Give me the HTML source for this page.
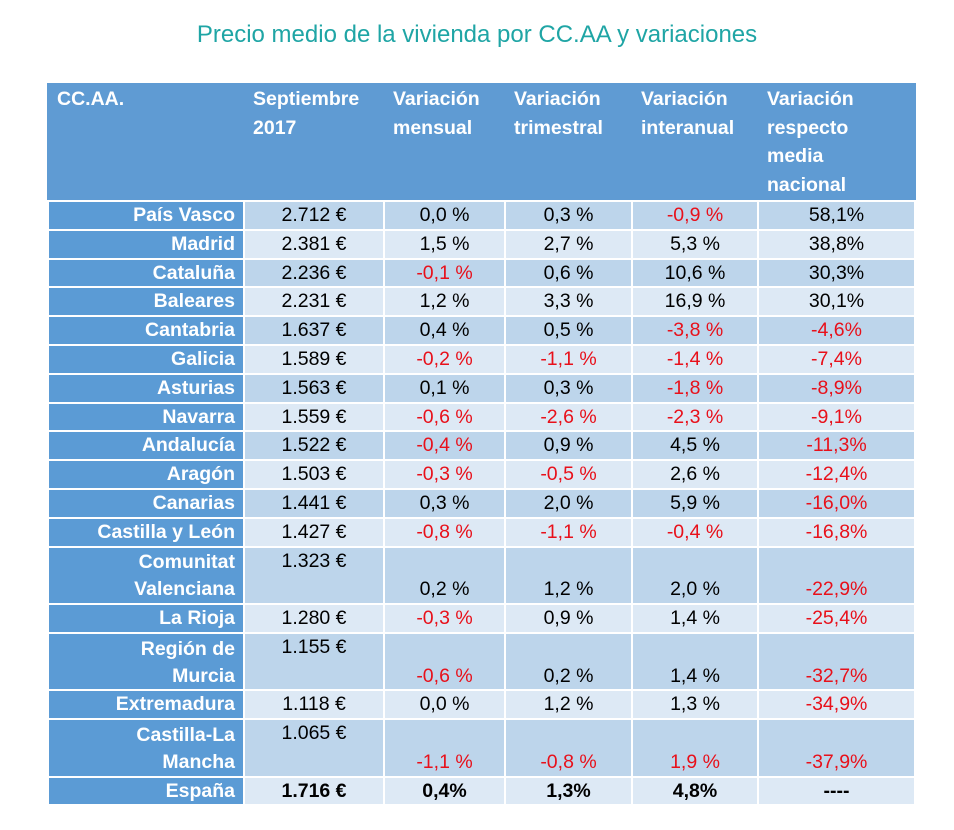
<!DOCTYPE html>
<html><head><meta charset="utf-8"><style>
body{margin:0;width:954px;height:830px;background:#fff;font-family:"Liberation Sans",sans-serif;}
h1{position:absolute;top:21px;left:0;width:954px;text-align:center;margin:0;font-weight:normal;font-size:24px;color:#1fa5a5;}
table{position:absolute;left:47px;top:83px;border-collapse:collapse;table-layout:fixed;font-size:19.5px;}
td{border:2px solid #fff;padding:0 8px;height:26.8px;line-height:26.8px;text-align:center;color:#000;overflow:hidden;white-space:nowrap;}
tr.h td{background:#5f9bd3;color:#fff;font-weight:bold;text-align:left;vertical-align:top;height:115px;padding:0 8px;line-height:28.5px;border-left-color:#5f9bd3;border-right-color:#5f9bd3;border-top-color:#5f9bd3}
td.n{background:#5b9bd5;color:#fff;font-weight:bold;text-align:right;}
tr.d td:not(.n){background:#bdd5eb}
tr.l td:not(.n){background:#dde9f5}
tr.t td{height:55.5px;vertical-align:bottom}
tr.t td.e{vertical-align:top}
.r{color:#e8101a!important}
tr.b td{font-weight:bold}
</style></head><body>
<h1>Precio medio de la vivienda por CC.AA y variaciones</h1>
<table>
<colgroup><col style="width:196px"><col style="width:140px"><col style="width:121px"><col style="width:127px"><col style="width:126px"><col style="width:157px"></colgroup>
<tr class="h"><td>CC.AA.</td><td>Septiembre<br>2017</td><td>Variación<br>mensual</td><td>Variación<br>trimestral</td><td>Variación<br>interanual</td><td>Variación<br>respecto<br>media<br>nacional</td></tr>
<tr class="d"><td class="n">País Vasco</td><td>2.712 €</td><td>0,0 %</td><td>0,3 %</td><td class="r">-0,9 %</td><td>58,1%</td></tr>
<tr class="l"><td class="n">Madrid</td><td>2.381 €</td><td>1,5 %</td><td>2,7 %</td><td>5,3 %</td><td>38,8%</td></tr>
<tr class="d"><td class="n">Cataluña</td><td>2.236 €</td><td class="r">-0,1 %</td><td>0,6 %</td><td>10,6 %</td><td>30,3%</td></tr>
<tr class="l"><td class="n">Baleares</td><td>2.231 €</td><td>1,2 %</td><td>3,3 %</td><td>16,9 %</td><td>30,1%</td></tr>
<tr class="d"><td class="n">Cantabria</td><td>1.637 €</td><td>0,4 %</td><td>0,5 %</td><td class="r">-3,8 %</td><td class="r">-4,6%</td></tr>
<tr class="l"><td class="n">Galicia</td><td>1.589 €</td><td class="r">-0,2 %</td><td class="r">-1,1 %</td><td class="r">-1,4 %</td><td class="r">-7,4%</td></tr>
<tr class="d"><td class="n">Asturias</td><td>1.563 €</td><td>0,1 %</td><td>0,3 %</td><td class="r">-1,8 %</td><td class="r">-8,9%</td></tr>
<tr class="l"><td class="n">Navarra</td><td>1.559 €</td><td class="r">-0,6 %</td><td class="r">-2,6 %</td><td class="r">-2,3 %</td><td class="r">-9,1%</td></tr>
<tr class="d"><td class="n">Andalucía</td><td>1.522 €</td><td class="r">-0,4 %</td><td>0,9 %</td><td>4,5 %</td><td class="r">-11,3%</td></tr>
<tr class="l"><td class="n">Aragón</td><td>1.503 €</td><td class="r">-0,3 %</td><td class="r">-0,5 %</td><td>2,6 %</td><td class="r">-12,4%</td></tr>
<tr class="d"><td class="n">Canarias</td><td>1.441 €</td><td>0,3 %</td><td>2,0 %</td><td>5,9 %</td><td class="r">-16,0%</td></tr>
<tr class="l"><td class="n">Castilla y León</td><td>1.427 €</td><td class="r">-0,8 %</td><td class="r">-1,1 %</td><td class="r">-0,4 %</td><td class="r">-16,8%</td></tr>
<tr class="d t"><td class="n">Comunitat<br>Valenciana</td><td class="e">1.323 €</td><td>0,2 %</td><td>1,2 %</td><td>2,0 %</td><td class="r">-22,9%</td></tr>
<tr class="l"><td class="n">La Rioja</td><td>1.280 €</td><td class="r">-0,3 %</td><td>0,9 %</td><td>1,4 %</td><td class="r">-25,4%</td></tr>
<tr class="d t"><td class="n">Región de<br>Murcia</td><td class="e">1.155 €</td><td class="r">-0,6 %</td><td>0,2 %</td><td>1,4 %</td><td class="r">-32,7%</td></tr>
<tr class="l"><td class="n">Extremadura</td><td>1.118 €</td><td>0,0 %</td><td>1,2 %</td><td>1,3 %</td><td class="r">-34,9%</td></tr>
<tr class="d t"><td class="n">Castilla-La<br>Mancha</td><td class="e">1.065 €</td><td class="r">-1,1 %</td><td class="r">-0,8 %</td><td class="r">1,9 %</td><td class="r">-37,9%</td></tr>
<tr class="l b"><td class="n">España</td><td>1.716 €</td><td>0,4%</td><td>1,3%</td><td>4,8%</td><td>----</td></tr>
</table>
</body></html>
